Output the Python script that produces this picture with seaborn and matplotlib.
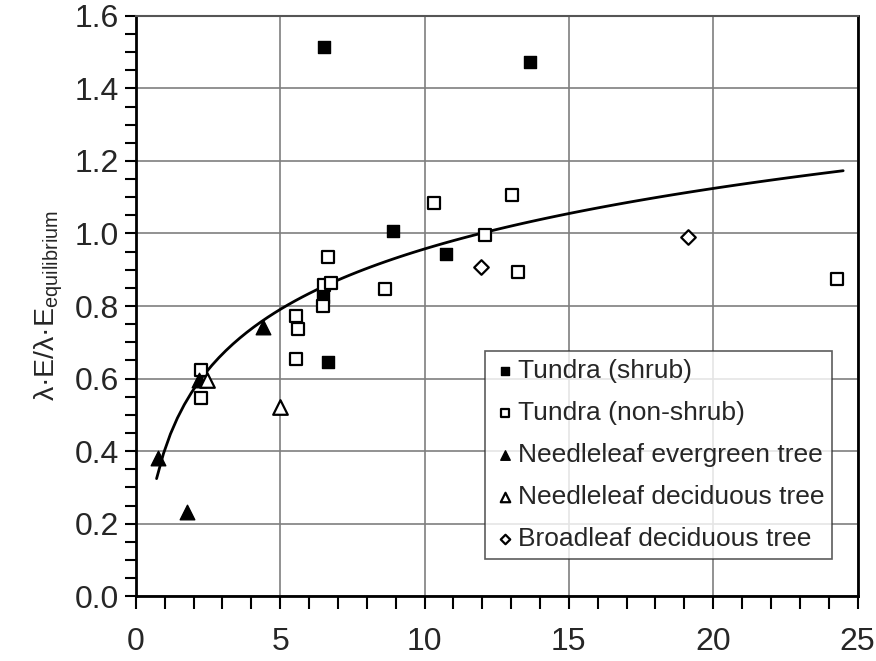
import matplotlib
matplotlib.use("Agg")
import matplotlib.pyplot as plt
import seaborn as sns
from matplotlib.ticker import MultipleLocator

# Tundra (shrub)
shrub_x = [6.53, 13.64, 8.91, 10.75, 6.47, 6.67]
shrub_y = [1.514, 1.474, 1.006, 0.944, 0.826, 0.646]

# Tundra (non-shrub)
nonshrub_x = [2.27, 2.27, 5.55, 5.61, 5.55, 6.67, 6.53, 6.75, 6.47, 8.62,
              10.34, 13.04, 12.10, 13.24, 24.28]
nonshrub_y = [0.625, 0.547, 0.773, 0.736, 0.653, 0.936, 0.858, 0.863, 0.801, 0.846,
              1.083, 1.106, 0.995, 0.895, 0.874]

# Needleleaf evergreen tree
evergreen_x = [0.78, 1.78, 2.18, 4.40]
evergreen_y = [0.382, 0.233, 0.596, 0.741]

# Needleleaf deciduous tree
ndecid_x = [2.45, 5.0]
ndecid_y = [0.596, 0.521]

# Broadleaf deciduous tree
bdecid_x = [11.96, 19.11]
bdecid_y = [0.908, 0.991]

# points
curve_x = [0.72, 1.21, 1.67, 2.24, 3.39, 4.43, 5.0, 6.49, 8.56, 10.5, 12.1, 17.76, 19.9, 24.5]
curve_y = [0.32, 0.458, 0.536, 0.596, 0.69, 0.752, 0.789, 0.858, 0.918, 0.962, 1.0, 1.101, 1.131, 1.173]

sns.set_style("white")
plt.rcParams['font.family'] = ['Liberation Sans', 'DejaVu Sans']
plt.rcParams['mathtext.fontset'] = 'custom'
plt.rcParams['mathtext.rm'] = 'Liberation Sans'

fig = plt.figure(figsize=(8.76, 6.61), dpi=100)
ax = fig.add_axes([0.155, 0.098, 0.824, 0.878])

# trend line (log fit)
sns.regplot(x=curve_x, y=curve_y, logx=True, scatter=False, ci=None, ax=ax,
            color='black', line_kws=dict(lw=2, zorder=3))

ms = 72
sns.scatterplot(x=shrub_x, y=shrub_y, marker='s', color='black', edgecolor='black',
                s=ms, linewidth=1, ax=ax, label='Tundra (shrub)', zorder=4)
sns.scatterplot(x=nonshrub_x, y=nonshrub_y, marker='s', color='white', edgecolor='black',
                s=ms, linewidth=1.6, ax=ax, label='Tundra (non-shrub)', zorder=4)
sns.scatterplot(x=evergreen_x, y=evergreen_y, marker='^', color='black', edgecolor='black',
                s=110, linewidth=1, ax=ax, label='Needleleaf evergreen tree', zorder=4)
sns.scatterplot(x=ndecid_x, y=ndecid_y, marker='^', color='white', edgecolor='black',
                s=110, linewidth=1.6, ax=ax, label='Needleleaf deciduous tree', zorder=4)
sns.scatterplot(x=bdecid_x, y=bdecid_y, marker='D', color='white', edgecolor='black',
                s=55, linewidth=1.6, ax=ax, label='Broadleaf deciduous tree', zorder=4)

ax.set_xlim(0, 25)
ax.set_ylim(0, 1.6)
ax.xaxis.set_major_locator(MultipleLocator(5))
ax.xaxis.set_minor_locator(MultipleLocator(1))
ax.yaxis.set_major_locator(MultipleLocator(0.2))
ax.yaxis.set_minor_locator(MultipleLocator(0.05))
ax.set_yticklabels([f"{v:.1f}" for v in ax.get_yticks()])

ax.grid(True, which='major', color='#7f7f7f', lw=1.2, zorder=0)
ax.set_axisbelow(True)

for side in ['left', 'bottom', 'right']:
    ax.spines[side].set_color('black')
    ax.spines[side].set_linewidth(2)
ax.spines['top'].set_color('#555555')
ax.spines['top'].set_linewidth(1.5)

ax.tick_params(axis='both', which='both', direction='out', color='black', width=1.5)
ax.tick_params(axis='x', which='both', length=9, pad=13, labelsize=23)
ax.tick_params(axis='y', which='both', length=8, pad=4, labelsize=23)
ax.tick_params(left=True, bottom=True, which='both')

ax.set_xlabel('')
ax.set_ylabel(r'λ·E/λ·E$_{\mathrm{equilibrium}}$', fontsize=20.5, labelpad=7)

handles, labels = ax.get_legend_handles_labels()
leg = ax.legend(handles, labels, loc='lower right', bbox_to_anchor=(0.965, 0.064),
                borderaxespad=0, fontsize=19, frameon=True, fancybox=False,
                markerscale=0.65, handletextpad=0.05, handlelength=0.9,
                labelspacing=0.68, borderpad=0.3)
leg.get_frame().set_edgecolor('#333333')
leg.get_frame().set_linewidth(1.2)

fig.savefig('out.png', dpi=100)
